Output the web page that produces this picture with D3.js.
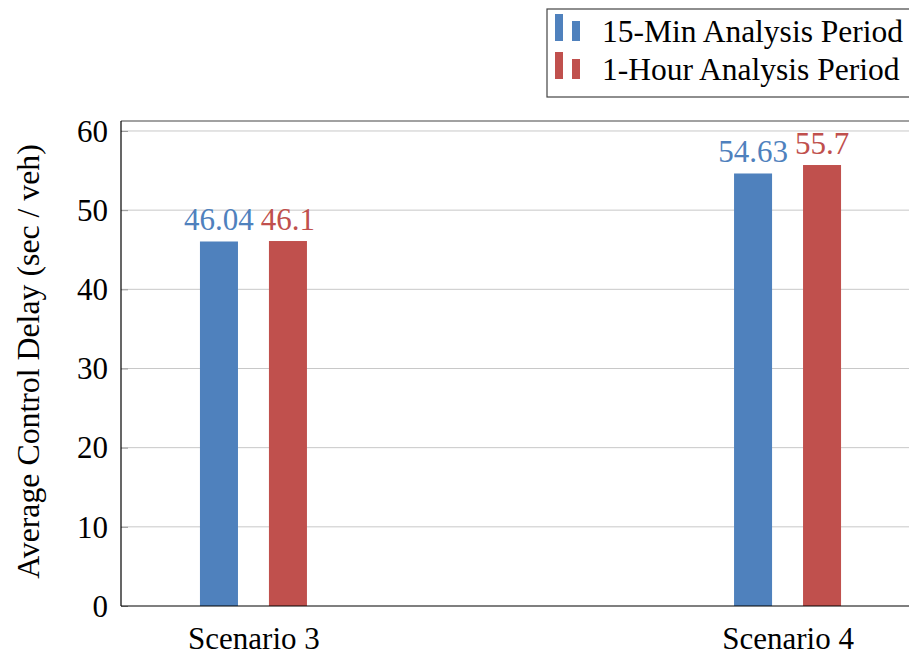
<!DOCTYPE html>
<html><head><meta charset="utf-8">
<script src="https://cdn.jsdelivr.net/npm/d3@7/dist/d3.min.js"></script>
<style>body{margin:0;background:#fff}svg{display:block}svg text{font-family:"Liberation Serif","Times New Roman",Times,"DejaVu Serif",serif}</style>
</head><body><svg id="c" width="909" height="655"></svg>
<script>
const categories = ["Scenario 3", "Scenario 4"];
const seriesNames = ["15-Min Analysis Period", "1-Hour Analysis Period"];
const series15 = [46.04, 54.63];
const series1h = [46.1, 55.7];
const labels15 = ["46.04", "54.63"];
const labels1h = ["46.1", "55.7"];
const yTicks = [0, 10, 20, 30, 40, 50, 60];
const colors = ["#4f81bd", "#c0504d"];

const svg = d3.select("#c");
const L = 121, R = 920, T = 121, B = 606;
const y = d3.scaleLinear().domain([0, 61.26]).range([B, T]);
const x = d3.scalePoint().domain(categories).range([L, R]).padding(0.248);
const off = d3.scaleBand().domain([0, 1]).range([-53.5, 53.5]).paddingInner(0.449).paddingOuter(0);

// grid
svg.append("g").selectAll("line").data(yTicks.filter(d => d > 0)).join("line")
  .attr("x1", L).attr("x2", R).attr("y1", d => y(d)).attr("y2", d => y(d))
  .attr("stroke", "#c8c8c8").attr("stroke-width", 1);

// y axis
const yAxis = d3.axisLeft(y).tickValues(yTicks).tickSize(-7).tickPadding(13).tickFormat(d3.format("d"));
const ga = svg.append("g").attr("transform", `translate(${L},0)`).call(yAxis);
ga.attr("font-family", null);
ga.select(".domain").remove();
ga.selectAll(".tick line").attr("stroke", "#999");
ga.selectAll(".tick text").attr("font-size", 31).attr("fill", "#000").attr("dy", "0.33em");

// x axis labels
const gx = svg.append("g").attr("transform", `translate(0,${B})`)
  .call(d3.axisBottom(x).tickSize(0).tickPadding(21));
gx.attr("font-family", null);
gx.select(".domain").remove();
gx.selectAll(".tick text").attr("font-size", 31).attr("fill", "#000").attr("dy", "0.71em");

// bars
const data = categories.map((c, i) => [
  {c, k: 0, v: series15[i], l: labels15[i]},
  {c, k: 1, v: series1h[i], l: labels1h[i]}
]).flat();
const cx = d => x(d.c);
svg.append("g").selectAll("rect").data(data).join("rect")
  .attr("x", d => cx(d) + off(d.k)).attr("width", off.bandwidth())
  .attr("y", d => y(d.v)).attr("height", d => y(0) - y(d.v))
  .attr("fill", d => colors[d.k]);
svg.append("g").selectAll("text").data(data).join("text")
  .attr("x", d => cx(d) + off(d.k) + off.bandwidth() / 2)
  .attr("y", d => y(d.v) - 11.5)
  .attr("text-anchor", "middle").attr("font-size", 31)
  .attr("fill", d => colors[d.k]).text(d => d.l);

// frame
svg.append("line").attr("x1", L).attr("x2", R).attr("y1", T).attr("y2", T).attr("stroke", "#444").attr("stroke-width", 1.2);
svg.append("line").attr("x1", L).attr("x2", L).attr("y1", T).attr("y2", B).attr("stroke", "#000").attr("stroke-width", 1.2);
svg.append("line").attr("x1", L).attr("x2", R).attr("y1", B).attr("y2", B).attr("stroke", "#000").attr("stroke-width", 1.2);

// y title
svg.append("text").attr("transform", `translate(39,361.5) rotate(-90)`)
  .attr("text-anchor", "middle").attr("font-size", 31.8).attr("fill", "#000")
  .text("Average Control Delay (sec / veh)");

// legend
const lg = svg.append("g");
lg.append("rect").attr("x", 547).attr("y", 9).attr("width", 380).attr("height", 88)
  .attr("fill", "#fff").attr("stroke", "#444").attr("stroke-width", 1.2);
seriesNames.forEach((n, i) => {
  const yb = 41 + i * 38;
  lg.append("rect").attr("x", 555).attr("y", yb - 27).attr("width", 8).attr("height", 27).attr("fill", colors[i]);
  lg.append("rect").attr("x", 572).attr("y", yb - 20).attr("width", 8).attr("height", 20).attr("fill", colors[i]);
  lg.append("text").attr("x", 602).attr("y", yb + 1).attr("font-size", 31.5)
    .attr("fill", "#000").text(n);
});
</script></body></html>
